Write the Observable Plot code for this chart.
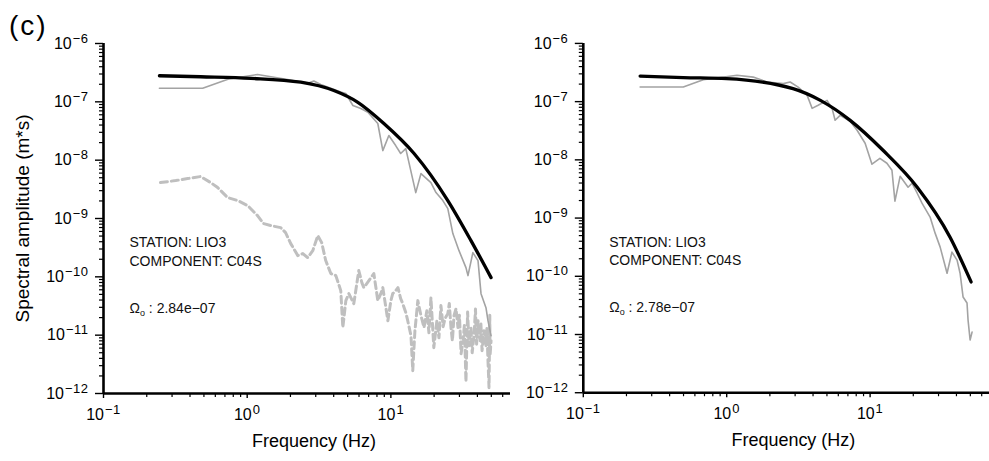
<!DOCTYPE html>
<html><head><meta charset="utf-8">
<script src="https://cdn.jsdelivr.net/npm/d3@7"></script>
<script src="https://cdn.jsdelivr.net/npm/@observablehq/plot@0.6"></script>
<style>
html,body{margin:0;padding:0;background:#fff;}
#wrap{position:relative;width:989px;height:461px;overflow:hidden;font-family:"Liberation Sans",Arial,sans-serif;}
#tag{position:absolute;left:9px;top:12px;font-size:28px;line-height:1;letter-spacing:2px;}
.panel{position:absolute;top:0;}
svg text tspan.base{font-size:16px !important;}
svg text tspan.sup{font-size:13px !important;letter-spacing:0.5px;}
</style></head><body>
<div id="wrap"><div class="panel" id="p1" style="left:0px"></div><div class="panel" id="p2" style="left:480px"></div><div id="tag">(c)</div></div>
<script>
// ---- axis ticks & labels ----
const yMajor = [1e-12, 1e-11, 1e-10, 1e-9, 1e-8, 1e-7, 1e-6];
const yExponents = ["−12", "−11", "−10", "−9", "−8", "−7", "−6"];
const xMajor = [0.1, 1, 10];
const xExponents = ["−1", "0", "1"];
const xLabel = "Frequency (Hz)";
const yLabel = "Spectral amplitude (m*s)";
const stationLabels = ["STATION: LIO3", "STATION: LIO3"];
const componentLabels = ["COMPONENT: C04S", "COMPONENT: C04S"];
const omegaValues = ["2.84e−07", "2.78e−07"];

// ---- left panel data ----
const leftObsF = [0.245, 0.49, 0.743, 1.18, 1.91, 2.64, 2.91, 3.25, 4.48, 4.86, 5.44, 6.18, 6.92, 8.11, 8.79, 9.68, 10.8, 11.7, 12.7, 14.9, 16.2, 19.0, 20.6, 23.0, 24.9, 27.0, 29.8, 33.3, 34.4, 37.2, 40.4, 42.4, 45.9, 47.4, 49.8];
const leftObsA = [1.71e-7, 1.71e-7, 2.46e-7, 2.94e-7, 2.41e-7, 2.08e-7, 2.27e-7, 1.98e-7, 1.47e-7, 1.39e-7, 8.65e-8, 7.67e-8, 6.64e-8, 4.25e-8, 1.46e-8, 2.64e-8, 1.78e-8, 1.30e-8, 1.58e-8, 2.78e-9, 5.89e-9, 4.13e-9, 2.78e-9, 2.03e-9, 1.48e-9, 5.51e-10, 2.81e-10, 1.44e-10, 1.05e-10, 2.60e-10, 1.90e-10, 5.15e-11, 2.96e-11, 1.77e-11, 9.8e-12];
const leftModelF = [0.245, 0.474, 1.06, 2.36, 4.01, 5.89, 8.94, 14.5, 24.9, 36.1, 49.8];
const leftModelA = [2.8e-7, 2.69e-7, 2.53e-7, 2.17e-7, 1.56e-7, 9.8e-8, 4.25e-8, 1.30e-8, 2.03e-9, 4.18e-10, 9.7e-11];
const noiseF = [0.249, 0.318, 0.385, 0.474, 0.557, 0.623, 0.731, 0.859, 1.01, 1.18, 1.30, 1.46, 1.71, 1.85, 2.01, 2.25, 2.44, 2.64, 2.86, 3.10, 3.30, 3.52, 3.82, 4.14, 4.48, 4.63, 4.86, 5.10, 5.52, 5.98, 6.28, 6.48, 7.03, 7.61, 8.11, 8.51, 8.79, 9.53, 10.0, 10.3, 10.8, 11.2, 11.7, 12.1, 12.7, 13.1, 13.8, 14.2, 14.7, 15.4, 16.2, 17.0, 17.8, 18.4, 19.0, 19.9, 20.9, 21.6, 22.3, 23.1, 23.8, 24.9, 25.5, 26.2, 26.8, 27.5, 28.4, 29.3, 30.0, 30.8, 31.8, 32.5, 33.3, 34.2, 35.0, 36.1, 36.8, 37.9, 38.8, 39.5, 40.4, 41.7, 42.3, 43.1, 44.5, 45.9, 46.6, 47.4, 48.2, 48.8, 49.0, 49.8];
const noiseA = [4.13e-9, 4.47e-9, 4.83e-9, 5.24e-9, 4.13e-9, 3.39e-9, 2.29e-9, 2.03e-9, 1.66e-9, 1.12e-9, 8.18e-10, 7.55e-10, 6.98e-10, 5.73e-10, 3.71e-10, 2.31e-10, 2.50e-10, 2.13e-10, 2.81e-10, 5.09e-10, 3.86e-10, 1.90e-10, 1.14e-10, 1.05e-10, 5.80e-11, 1.35e-11, 3.91e-11, 5.15e-11, 3.47e-11, 1.28e-10, 7.96e-11, 6.53e-11, 8.61e-11, 1.14e-10, 3.91e-11, 5.15e-11, 6.53e-11, 1.77e-11, 3.91e-11, 5.15e-11, 5.80e-11, 6.53e-11, 4.23e-11, 3.47e-11, 2.43e-11, 1.77e-11, 9.8e-12, 2.46e-12, 1.19e-11, 3.91e-11, 2.16e-11, 1.35e-11, 2.63e-11, 1.1e-11, 4.40e-11, 6.11e-12, 1.77e-11, 9.0e-12, 3.21e-11, 1.4e-11, 1.92e-11, 2.34e-11, 3.5e-11, 1.35e-11, 8.0e-12, 2.16e-11, 2.85e-11, 1.35e-11, 2.2e-11, 4.82e-12, 8.05e-12, 1.5e-11, 1.59e-12, 2.5e-11, 6.61e-12, 1.35e-11, 5.0e-12, 9.8e-12, 2.8e-11, 7.0e-12, 1.77e-11, 8.05e-12, 1.6e-11, 5.42e-12, 1.19e-11, 6.61e-12, 1.3e-11, 3.66e-12, 1.26e-12, 2.2e-11, 4.45e-12, 8.05e-12];

// ---- right panel data ----
const rightObsF = [0.249, 0.498, 0.686, 1.18, 1.53, 1.91, 2.48, 2.77, 3.15, 3.64, 3.94, 4.34, 5.01, 5.43, 5.70, 6.18, 7.26, 8.11, 9.23, 10.3, 11.7, 13.1, 14.2, 14.9, 16.2, 18.4, 19.6, 21.3, 23.0, 26.2, 28.4, 30.8, 34.4, 37.2, 40.4, 42.4, 44.5, 47.4, 48.2, 49.8, 51.4];
const rightObsA = [1.78e-7, 1.78e-7, 2.38e-7, 2.83e-7, 2.64e-7, 2.17e-7, 2.04e-7, 2.17e-7, 1.78e-7, 1.28e-7, 7.67e-8, 8.65e-8, 1.05e-7, 7.67e-8, 4.78e-8, 5.82e-8, 4.59e-8, 3.22e-8, 1.93e-8, 8.41e-9, 1.06e-8, 8.74e-9, 6.63e-9, 1.95e-9, 5.24e-9, 3.39e-9, 3.97e-9, 2.67e-9, 1.80e-9, 1.04e-9, 5.51e-10, 3.17e-10, 1.13e-10, 2.60e-10, 1.90e-10, 1.13e-10, 4.40e-11, 3.47e-11, 1.77e-11, 8.05e-12, 1.10e-11];
const rightModelF = [0.249, 0.498, 1.0, 2.9, 4.5, 7.26, 12.3, 21.3, 36.1, 50.6];
const rightModelA = [2.75e-7, 2.59e-7, 2.48e-7, 1.67e-7, 1.05e-7, 4.77e-8, 1.46e-8, 3.39e-9, 4.7e-10, 8.0e-11];

const yMinor = [];
for (let e = -12; e < -6; e++) for (let k = 2; k <= 9; k++) yMinor.push(k * Math.pow(10, e));
const xMinor = [];
for (let e = -1; e <= 1; e++) for (let k = 2; k <= 9; k++) { const v = k * Math.pow(10, e); if (v <= 68) xMinor.push(v); }

const rows = (F, A) => F.map((f, i) => ({f, a: A[i]}));
const FONT = "Liberation Sans, Arial, Helvetica, sans-serif";
const expOf = (ticks, labels, d) => labels[ticks.findIndex(v => Math.abs(Math.log10(v) - Math.log10(d)) < 1e-6)];

function panel(i, obs, mod, noise, withYLabel) {
  const marks = [];
  if (noise) marks.push(Plot.line(noise, {x: "f", y: "a", stroke: "#bfbfbf", strokeWidth: 3, strokeDasharray: "7,4"}));
  marks.push(Plot.line(obs, {x: "f", y: "a", stroke: "#a3a3a3", strokeWidth: 1.6}));
  marks.push(Plot.line(mod, {x: "f", y: "a", stroke: "#000", strokeWidth: 3.3, curve: "monotone-x"}));
  marks.push(Plot.axisY(yMinor, {tickSize: 4, tickFormat: () => "", label: null, strokeWidth: 1.2}));
  marks.push(Plot.axisY(yMajor, {tickSize: 8, tickPadding: 7, label: null, strokeWidth: 1.4, fontSize: 16,
    tickFormat: d => "10^" + expOf(yMajor, yExponents, d)}));
  marks.push(Plot.axisX(xMinor, {tickSize: 4, tickFormat: () => "", label: null, strokeWidth: 1.2}));
  marks.push(Plot.axisX(xMajor, {tickSize: 5, tickPadding: 10, label: null, strokeWidth: 1.4, fontSize: 16,
    tickFormat: d => "10^" + expOf(xMajor, xExponents, d)}));
  marks.push(Plot.ruleX([0.1], {strokeWidth: 2.6}));
  marks.push(Plot.ruleY([1e-12], {strokeWidth: 2.6}));
  marks.push(Plot.text([xLabel], {frameAnchor: "bottom", lineAnchor: "middle", textAnchor: "middle", dy: 48, dx: 7, fontSize: 18}));
  if (withYLabel) marks.push(Plot.text([yLabel], {frameAnchor: "left", textAnchor: "middle", lineAnchor: "middle", dx: -81, rotate: -90, fontSize: 19}));
  marks.push(Plot.text([stationLabels[i]], {frameAnchor: "left", textAnchor: "start", dx: 26, dy: 24, fontSize: 14, fill: "#111"}));
  marks.push(Plot.text([componentLabels[i]], {frameAnchor: "left", textAnchor: "start", dx: 26, dy: 43, fontSize: 14, fill: "#111"}));
  marks.push(Plot.text(["Ω^" + omegaValues[i]], {frameAnchor: "left", textAnchor: "start", dx: 26, dy: 90, fontSize: 14, fill: "#111"}));
  return Plot.plot({
    width: 510, height: 461,
    marginLeft: 103, marginRight: 0, marginTop: 43, marginBottom: 68,
    x: {type: "log", domain: [0.1, 68]},
    y: {type: "log", domain: [1e-12, 1e-6]},
    style: {fontFamily: FONT, background: "transparent", overflow: "visible"},
    marks
  });
}

const NS = "http://www.w3.org/2000/svg";
function decorate(svg) {
  svg.querySelectorAll("text").forEach(t => {
    const s = t.textContent;
    if (!s.includes("^")) return;
    const [b, e] = s.split("^");
    t.textContent = "";
    if (b === "Ω") {
      const a = document.createElementNS(NS, "tspan"); a.textContent = "Ω"; t.appendChild(a);
      const o = document.createElementNS(NS, "tspan"); o.setAttribute("dy", "3"); o.setAttribute("font-size", "9"); o.textContent = "o"; t.appendChild(o);
      const r = document.createElementNS(NS, "tspan"); r.setAttribute("dy", "-3"); r.textContent = " : " + e; t.appendChild(r);
    } else {
      t.setAttribute("fill", "#000");
      const a = document.createElementNS(NS, "tspan"); a.setAttribute("class", "base"); a.setAttribute("font-size", "16"); a.textContent = b; t.appendChild(a);
      const sup = document.createElementNS(NS, "tspan");
      sup.setAttribute("class", "sup"); sup.setAttribute("font-size", "13");
      sup.setAttribute("dy", "-6"); sup.setAttribute("dx", "1");
      sup.textContent = e; t.appendChild(sup);
    }
  });
  return svg;
}

const left = panel(0, rows(leftObsF, leftObsA), rows(leftModelF, leftModelA), rows(noiseF, noiseA), true);
const right = panel(1, rows(rightObsF, rightObsA), rows(rightModelF, rightModelA), null, false);
document.getElementById("p1").appendChild(decorate(left));
document.getElementById("p2").appendChild(decorate(right));
</script>
</body></html>
